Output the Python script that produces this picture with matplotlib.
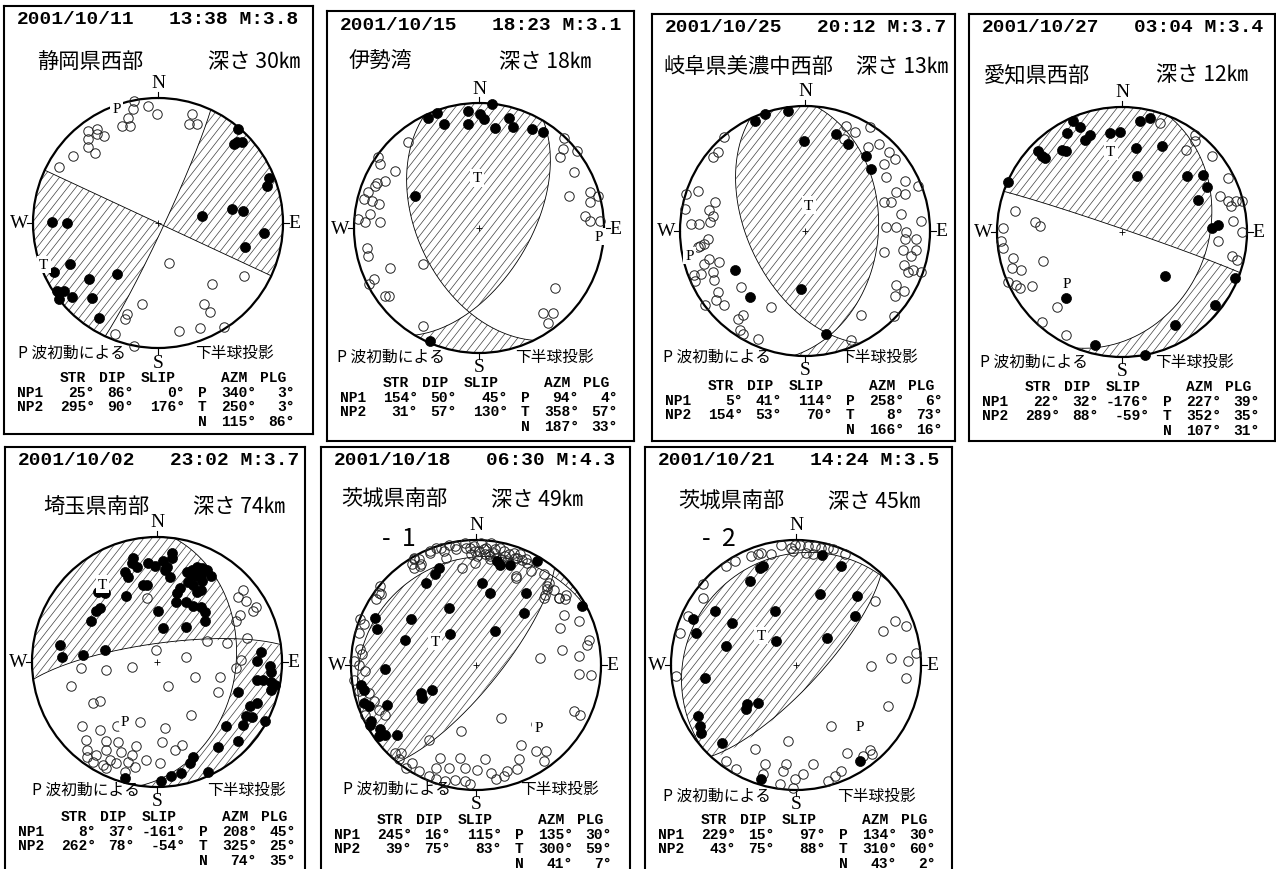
import numpy as np
import matplotlib.pyplot as plt
from matplotlib.patches import Circle, PathPatch
from matplotlib.collections import LineCollection

plt.rcParams['font.family'] = ['Noto Sans CJK JP', 'DejaVu Sans']

# ---------------- data ----------------
dates = ['2001/10/11', '2001/10/15', '2001/10/25', '2001/10/27', '2001/10/02', '2001/10/18', '2001/10/21']
times = ['13:38', '18:23', '20:12', '03:04', '23:02', '06:30', '14:24']
mags = ['3.8', '3.1', '3.7', '3.4', '3.7', '4.3', '3.5']
regions = ['静岡県西部', '伊勢湾', '岐阜県美濃中西部', '愛知県西部', '埼玉県南部', '茨城県南部', '茨城県南部']
depths = [30, 18, 13, 12, 74, 49, 45]
sub_labels = ['', '', '', '', '', '-  1', '-  2']

np1_str = [25, 154, 5, 22, 8, 245, 229]
np1_dip = [86, 50, 41, 32, 37, 16, 15]
np1_slip = [0, 45, 114, -176, -161, 115, 97]
np2_str = [295, 31, 154, 289, 262, 39, 43]
np2_dip = [90, 57, 53, 88, 78, 75, 75]
np2_slip = [176, 130, 70, -59, -54, 83, 88]
p_azm = [340, 94, 258, 227, 208, 135, 134]
p_plg = [3, 4, 6, 39, 45, 30, 30]
t_azm = [250, 358, 8, 352, 325, 300, 310]
t_plg = [3, 57, 73, 35, 25, 59, 60]
n_azm = [115, 187, 166, 107, 74, 41, 43]
n_plg = [86, 33, 16, 31, 35, 7, 2]

# first-motion observations on the projection (x east, y north, unit circle)
up1 = [(0.64, 0.75), (0.63, 0.65), (0.67, 0.65), (0.61, 0.63), (0.89, 0.36), (0.87, 0.30), (0.59, 0.11),
       (0.68, 0.10), (0.35, 0.06), (0.85, -0.08), (0.70, -0.19), (-0.85, 0.01), (-0.73, 0.00), (-0.70, -0.33),
       (-0.83, -0.39), (-0.55, -0.45), (-0.33, -0.41), (-0.81, -0.54), (-0.75, -0.54), (-0.69, -0.59),
       (-0.79, -0.61), (-0.53, -0.60), (-0.47, -0.76)]
down1 = [(-0.19, 0.98), (-0.08, 0.94), (-0.20, 0.91), (-0.01, 0.87), (-0.24, 0.84), (0.27, 0.87), (0.25, 0.79),
         (0.31, 0.79), (-0.29, 0.78), (-0.22, 0.78), (-0.49, 0.75), (-0.56, 0.74), (-0.49, 0.71), (-0.43, 0.70),
         (-0.56, 0.67), (-0.56, 0.61), (-0.50, 0.56), (-0.68, 0.54), (-0.79, 0.45), (0.09, -0.32), (0.69, -0.42),
         (0.43, -0.49), (0.37, -0.65), (0.42, -0.71), (-0.13, -0.65), (-0.25, -0.73), (-0.26, -0.77),
         (0.53, -0.83), (0.34, -0.84), (0.17, -0.86), (-0.34, -0.89), (-0.19, -0.98)]

up2 = [(0.10, 0.99), (-0.09, 0.94), (0.01, 0.91), (0.04, 0.87), (-0.34, 0.92), (-0.41, 0.88), (-0.28, 0.83),
       (-0.09, 0.83), (0.24, 0.88), (0.27, 0.81), (0.13, 0.80), (0.42, 0.79), (0.51, 0.77), (-0.51, 0.26),
       (-0.39, -0.90)]
down2 = [(-0.57, 0.69), (-0.81, 0.57), (-0.79, 0.51), (-0.67, 0.46), (-0.75, 0.38), (-0.82, 0.36), (-0.83, 0.34),
         (-0.89, 0.29), (-0.92, 0.23), (-0.86, 0.22), (-0.80, 0.19), (-0.87, 0.11), (-0.91, 0.05), (-0.79, 0.05),
         (-0.97, 0.07), (-0.90, -0.16), (-0.89, -0.22), (-0.71, -0.32), (-0.84, -0.41), (-0.88, -0.45),
         (-0.75, -0.54), (-0.72, -0.54), (-0.45, -0.29), (-0.45, -0.78), (0.68, 0.72), (0.67, 0.63), (0.65, 0.57),
         (0.78, 0.62), (0.76, 0.45), (0.72, 0.26), (0.89, 0.29), (0.95, 0.26), (0.89, 0.21), (0.85, 0.10),
         (0.89, 0.06), (0.97, 0.06), (0.61, -0.48), (0.51, -0.68), (0.59, -0.68), (0.55, -0.76)]

up3 = [(-0.32, 0.94), (-0.14, 0.96), (-0.40, 0.88), (-0.01, 0.72), (0.25, 0.78), (0.34, 0.70), (0.49, 0.60),
       (0.53, 0.50), (-0.56, -0.31), (-0.44, -0.53), (-0.03, -0.46), (0.17, -0.82)]
down3 = [(-0.65, 0.75), (-0.70, 0.63), (-0.74, 0.59), (-0.95, 0.30), (-0.86, 0.32), (-0.72, 0.23), (-0.96, 0.18),
         (-0.77, 0.17), (-0.74, 0.12), (-0.91, 0.06), (-0.85, 0.06), (-0.76, 0.07), (-0.78, -0.06), (-0.84, -0.12),
         (-0.86, -0.13), (-0.81, -0.10), (-0.92, -0.19), (-0.77, -0.22), (-0.81, -0.26), (-0.69, -0.25),
         (-0.89, -0.35), (-0.83, -0.34), (-0.74, -0.33), (-0.73, -0.39), (-0.88, -0.40), (-0.51, -0.45),
         (-0.70, -0.49), (-0.71, -0.55), (-0.80, -0.59), (-0.65, -0.59), (-0.50, -0.67), (-0.54, -0.70),
         (-0.27, -0.61), (-0.52, -0.79), (-0.50, -0.82), (-0.38, -0.86), (0.33, 0.84), (0.40, 0.79), (0.31, 0.74),
         (0.52, 0.83), (0.59, 0.70), (0.50, 0.67), (0.67, 0.63), (0.72, 0.58), (0.63, 0.54), (0.65, 0.43),
         (0.80, 0.40), (0.90, 0.36), (0.73, 0.31), (0.80, 0.30), (0.63, 0.23), (0.69, 0.23), (0.77, 0.14),
         (0.93, 0.08), (0.65, 0.03), (0.73, 0.03), (0.81, -0.01), (0.89, -0.06), (0.80, -0.06), (0.89, -0.15),
         (0.78, -0.15), (0.63, -0.17), (0.85, -0.20), (0.79, -0.27), (0.93, -0.33), (0.86, -0.31), (0.82, -0.33),
         (0.73, -0.43), (0.79, -0.48), (0.72, -0.52), (0.71, -0.68), (0.45, -0.67), (0.37, -0.87)]

up4 = [(-0.39, 0.89), (-0.34, 0.84), (-0.44, 0.79), (-0.26, 0.78), (-0.30, 0.74), (-0.10, 0.79), (-0.02, 0.80),
       (0.14, 0.89), (0.22, 0.91), (0.32, 0.69), (0.11, 0.67), (-0.67, 0.65), (-0.64, 0.61), (-0.62, 0.59),
       (-0.48, 0.66), (-0.45, 0.65), (-0.91, 0.40), (0.12, 0.45), (0.52, 0.45), (0.65, 0.46), (0.68, 0.36),
       (0.61, 0.26), (0.77, 0.06), (0.72, 0.03), (0.34, -0.35), (-0.45, -0.53), (0.90, -0.37), (0.74, -0.58),
       (0.42, -0.74), (-0.22, -0.90), (0.18, -0.98)]
down4 = [(0.30, 0.87), (0.58, 0.78), (0.58, 0.73), (0.51, 0.66), (0.72, 0.61), (0.85, 0.43), (0.78, 0.29),
         (0.85, 0.25), (0.91, 0.25), (0.96, 0.25), (0.87, 0.21), (0.89, 0.09), (0.96, 0.00), (0.77, -0.07),
         (0.88, -0.19), (0.92, -0.22), (-0.86, 0.17), (-0.70, 0.08), (-0.66, 0.05), (-0.95, 0.03), (-0.97, -0.07),
         (-0.95, -0.13), (-0.87, -0.21), (-0.63, -0.23), (-0.88, -0.29), (-0.81, -0.30), (-0.91, -0.40),
         (-0.85, -0.42), (-0.82, -0.45), (-0.72, -0.43), (-0.52, -0.60), (-0.64, -0.72), (-0.45, -0.82)]

up5 = [(-0.19, 0.83), (-0.20, 0.79), (-0.16, 0.76), (-0.26, 0.72), (-0.23, 0.68), (-0.07, 0.79), (-0.02, 0.77),
       (0.05, 0.81), (0.08, 0.76), (0.12, 0.87), (0.12, 0.83), (0.06, 0.74), (0.10, 0.68), (-0.11, 0.62),
       (-0.08, 0.62), (-0.25, 0.53), (-0.45, 0.60), (-0.47, 0.56), (-0.42, 0.55), (-0.46, 0.43), (-0.49, 0.41),
       (-0.53, 0.33), (-0.78, 0.14), (-0.76, 0.04), (-0.59, 0.06), (-0.42, 0.10), (0.16, 0.55), (0.18, 0.59),
       (0.01, 0.41), (0.15, 0.48), (0.23, 0.48), (0.05, 0.27), (0.23, 0.28), (0.24, 0.72), (0.28, 0.74),
       (0.32, 0.76), (0.36, 0.75), (0.40, 0.74), (0.27, 0.70), (0.31, 0.69), (0.35, 0.70), (0.43, 0.69),
       (0.25, 0.64), (0.29, 0.62), (0.36, 0.65), (0.35, 0.58), (0.29, 0.45), (0.35, 0.44), (0.38, 0.40),
       (0.32, 0.56), (0.38, 0.33), (0.83, 0.08), (0.80, 0.01), (0.90, -0.03), (0.91, -0.08), (0.80, -0.14),
       (0.85, -0.14), (0.91, -0.16), (0.94, -0.18), (0.91, -0.22), (0.65, -0.24), (0.74, -0.35), (0.80, -0.33),
       (0.71, -0.43), (0.76, -0.44), (0.86, -0.47), (0.69, -0.50), (0.55, -0.51), (0.65, -0.63), (0.49, -0.68),
       (0.29, -0.76), (0.26, -0.81), (0.19, -0.89), (0.11, -0.91), (0.03, -0.95), (0.41, -0.88), (-0.26, -0.93)]
down5 = [(-0.08, 0.51), (0.69, 0.58), (0.65, 0.52), (0.71, 0.49), (0.79, 0.44), (0.77, 0.41), (0.66, 0.38),
         (0.63, 0.33), (0.72, 0.19), (0.40, 0.17), (0.56, 0.15), (-0.01, 0.10), (0.23, 0.04), (0.67, 0.02),
         (0.63, -0.05), (-0.61, -0.05), (-0.41, -0.06), (-0.20, -0.04), (0.30, -0.12), (0.50, -0.12), (0.09, -0.19),
         (-0.69, -0.19), (0.49, -0.24), (-0.51, -0.33), (-0.46, -0.31), (0.27, -0.42), (-0.60, -0.51),
         (-0.46, -0.54), (-0.32, -0.51), (-0.14, -0.48), (0.06, -0.53), (-0.57, -0.62), (-0.41, -0.63),
         (-0.31, -0.64), (-0.17, -0.67), (0.04, -0.64), (0.20, -0.66), (-0.56, -0.70), (-0.41, -0.70),
         (-0.29, -0.72), (-0.20, -0.74), (-0.56, -0.76), (-0.49, -0.74), (-0.38, -0.78), (-0.51, -0.80),
         (-0.43, -0.82), (-0.33, -0.81), (-0.23, -0.80), (-0.18, -0.84), (-0.09, -0.78), (0.02, -0.81),
         (-0.26, -0.88), (-0.41, -0.85), (0.14, -0.70)]

up6 = [(-0.30, 0.78), (-0.33, 0.73), (-0.40, 0.66), (0.19, 0.80), (0.27, 0.80), (0.49, 0.83), (0.05, 0.66),
       (0.11, 0.58), (0.40, 0.58), (0.38, 0.42), (0.85, 0.47), (-0.22, 0.46), (0.15, 0.27), (-0.21, 0.25),
       (-0.52, 0.37), (-0.57, 0.20), (-0.81, 0.38), (-0.79, 0.29), (-0.73, -0.03), (-0.92, -0.16), (-0.90, -0.20),
       (-0.44, -0.22), (-0.43, -0.26), (-0.35, -0.20), (-0.90, -0.30), (-0.86, -0.33), (-0.71, -0.32),
       (-0.84, -0.45), (-0.85, -0.48), (-0.77, -0.51), (-0.78, -0.57), (-0.73, -0.56), (-0.63, -0.56), (0.17, 0.83)]
down6 = [(-0.50, 0.86), (-0.46, 0.85), (-0.44, 0.81), (-0.50, 0.78), (-0.37, 0.91), (-0.32, 0.94), (-0.26, 0.91),
         (-0.22, 0.96), (-0.17, 0.95), (-0.09, 0.98), (-0.05, 0.94), (-0.01, 0.91), (0.04, 0.98), (0.08, 0.94),
         (0.12, 0.98), (0.15, 0.93), (0.19, 0.94), (0.22, 0.91), (0.26, 0.89), (0.30, 0.90), (0.33, 0.86),
         (0.37, 0.84), (0.41, 0.82), (0.07, 0.89), (0.11, 0.87), (0.01, 0.87), (-0.04, 0.89), (-0.01, 0.82),
         (-0.11, 0.78), (0.32, 0.71), (0.44, 0.75), (0.54, 0.73), (0.58, 0.66), (0.57, 0.61), (0.62, 0.60),
         (0.66, 0.54), (0.71, 0.53), (0.54, 0.54), (0.70, 0.40), (0.82, 0.35), (0.67, 0.30), (0.90, 0.20),
         (0.89, 0.16), (0.69, 0.12), (0.82, 0.07), (0.51, 0.06), (0.82, -0.07), (0.92, -0.08), (0.78, -0.37),
         (0.83, -0.40), (0.20, -0.42), (0.48, -0.47), (-0.12, -0.53), (-0.38, -0.60), (0.36, -0.64), (0.48, -0.69),
         (0.56, -0.69), (0.54, -0.77), (-0.29, -0.74), (-0.13, -0.74), (0.07, -0.75), (0.34, -0.75), (-0.32, -0.82),
         (-0.22, -0.82), (-0.09, -0.82), (0.01, -0.84), (0.12, -0.86), (0.25, -0.85), (0.33, -0.83), (-0.09, -0.93),
         (-0.17, -0.92), (-0.05, -0.95), (0.22, -0.89), (0.16, -0.91), (-0.60, -0.70), (-0.62, -0.75),
         (-0.51, -0.78), (-0.56, -0.82), (-0.46, -0.85), (-0.38, -0.89), (-0.32, -0.91), (-0.25, -0.93),
         (-0.77, 0.63), (-0.78, 0.58), (-0.80, 0.53), (-0.93, 0.37), (-0.90, 0.33), (-0.94, 0.26), (-0.93, 0.13),
         (-0.91, 0.09), (-0.98, 0.03), (-0.94, 0.00), (-0.89, -0.05), (-0.98, -0.12), (-0.94, -0.21),
         (-0.86, -0.22), (-0.82, -0.29), (-0.78, -0.36), (-0.73, -0.40), (-0.89, -0.40), (-0.65, -0.70),
         (-0.08, 0.94), (-0.02, 0.95), (0.02, 0.91), (0.06, 0.93), (0.10, 0.89), (0.14, 0.90), (0.16, 0.86),
         (0.20, 0.85), (0.23, 0.87), (0.11, 0.85), (0.25, 0.83), (0.31, 0.86), (0.35, 0.89), (0.40, 0.85),
         (-0.16, 0.93), (-0.28, 0.94), (-0.37, 0.90), (-0.50, 0.85), (-0.45, 0.79), (-0.51, 0.81), (-0.24, 0.86),
         (0.57, 0.63), (0.66, 0.54), (0.72, 0.56), (0.55, 0.56), (0.32, 0.70), (-0.76, 0.57)]

up7 = [(0.21, 0.88), (0.36, 0.79), (-0.29, 0.78), (-0.26, 0.79), (-0.37, 0.67), (0.19, 0.57), (0.49, 0.55),
       (0.47, 0.39), (-0.65, 0.43), (-0.51, 0.34), (-0.17, 0.43), (-0.82, 0.37), (-0.80, 0.26), (-0.56, 0.15),
       (-0.16, 0.19), (0.25, 0.22), (-0.73, -0.10), (-0.39, -0.31), (-0.40, -0.35), (-0.30, -0.30), (-0.78, -0.41),
       (-0.77, -0.49), (-0.76, -0.54), (-0.59, -0.62), (0.51, -0.77), (-0.28, -0.91)]
down7 = [(-0.36, 0.87), (-0.30, 0.89), (-0.28, 0.90), (-0.20, 0.89), (-0.12, 0.96), (-0.04, 0.94), (-0.01, 0.96),
         (-0.02, 0.91), (0.03, 0.96), (0.10, 0.95), (0.15, 0.95), (0.20, 0.94), (0.26, 0.94), (0.30, 0.93),
         (0.08, 0.90), (0.14, 0.89), (0.39, 0.89), (-0.56, 0.79), (-0.49, 0.83), (-0.74, 0.65), (-0.74, 0.54),
         (-0.86, 0.39), (-0.93, 0.26), (-0.96, -0.09), (0.63, 0.51), (0.79, 0.35), (0.88, 0.31), (0.70, 0.27),
         (0.96, 0.10), (0.76, 0.06), (0.90, 0.03), (0.60, -0.01), (0.88, -0.10), (0.74, -0.33), (0.28, -0.49),
         (-0.06, -0.61), (-0.33, -0.67), (0.41, -0.70), (0.59, -0.68), (0.61, -0.71), (0.54, -0.73), (-0.56, -0.77),
         (-0.48, -0.83), (-0.25, -0.79), (-0.26, -0.87), (-0.08, -0.79), (-0.10, -0.85), (-0.01, -0.91),
         (0.06, -0.87), (0.14, -0.79), (0.36, -0.85), (0.31, -0.89), (0.26, -0.93), (-0.13, -0.95), (-0.02, -0.98)]

ups = [up1, up2, up3, up4, up5, up6, up7]
downs = [down1, down2, down3, down4, down5, down6, down7]

# ---------------- layout (pixels) ----------------
R = 125.0
boxes = [(4, 7, 309, 428), (327, 12, 307, 430), (652, 15, 303, 427), (969, 15, 306, 427),
         (5, 448, 300, 424), (321, 448, 309, 424), (645, 448, 307, 424)]
centers = [(154, 217), (152, 217), (153, 217), (153, 218), (152, 215), (155, 218), (151, 218)]
name_pos = [(33, 55), (22, 50), (11, 52), (15, 60), (38, 59), (20, 52), (33, 54)]
depth_x = [204, 172, 204, 187, 188, 170, 183]
foot_pos = [(14, 191, 346), (10, 188, 345), (11, 187, 342), (11, 186, 347), (27, 202, 342), (22, 199, 341),
            (18, 192, 348)]

mono = 'Liberation Mono'
serif = 'Liberation Serif'


def moment(strike, dip, rake):
    f, d, l = np.radians([strike, dip, rake])
    mxx = -(np.sin(d) * np.cos(l) * np.sin(2 * f) + np.sin(2 * d) * np.sin(l) * np.sin(f) ** 2)
    mxy = np.sin(d) * np.cos(l) * np.cos(2 * f) + 0.5 * np.sin(2 * d) * np.sin(l) * np.sin(2 * f)
    mxz = -(np.cos(d) * np.cos(l) * np.cos(f) + np.cos(2 * d) * np.sin(l) * np.sin(f))
    myy = np.sin(d) * np.cos(l) * np.sin(2 * f) - np.sin(2 * d) * np.sin(l) * np.cos(f) ** 2
    myz = -(np.cos(d) * np.cos(l) * np.sin(f) - np.cos(2 * d) * np.sin(l) * np.cos(f))
    mzz = np.sin(2 * d) * np.sin(l)
    return np.array([[mxx, mxy, mxz], [mxy, myy, myz], [mxz, myz, mzz]])


def nodal_line(strike, dip):
    # great circle of the plane, lower hemisphere, equal-area
    f, d = np.radians([strike, dip])
    t = np.linspace(0, np.pi, 361)
    s = np.array([np.cos(f), np.sin(f), 0.0])
    dv = np.array([-np.cos(d) * np.sin(f), np.cos(d) * np.cos(f), np.sin(d)])
    v = np.outer(np.cos(t), s) + np.outer(np.sin(t), dv)
    inc = np.arccos(np.clip(v[:, 2], -1, 1))
    az = np.arctan2(v[:, 1], v[:, 0])
    r = np.sqrt(2) * np.sin(inc / 2)
    return r * np.sin(az), r * np.cos(az)


def axis_xy(azm, plg):
    r = np.sqrt(2) * np.sin(np.radians(90 - plg) / 2)
    return r * np.sin(np.radians(azm)), r * np.cos(np.radians(azm))


# polar grid on the focal sphere
rr, th = np.meshgrid(np.linspace(0, 1, 160), np.linspace(0, 2 * np.pi, 721))
inc = 2 * np.arcsin(rr / np.sqrt(2))
ray = np.stack([np.sin(inc) * np.cos(th), np.sin(inc) * np.sin(th), np.cos(inc)])
GX, GY = rr * np.sin(th), rr * np.cos(th)

ang = np.radians(52)
dvec = np.array([np.cos(ang), np.sin(ang)])
nvec = np.array([-np.sin(ang), np.cos(ang)])
hatch_segs = [[tuple(c * nvec - 1.6 * dvec), tuple(c * nvec + 1.6 * dvec)] for c in np.arange(-1.5, 1.5, 0.051)]

fig = plt.figure(figsize=(12.76, 8.70), dpi=100)

for k in range(7):
    bx, by, bw, bh = boxes[k]
    cx, cy = centers[k]
    ax = fig.add_axes([bx / 1276, 1 - (by + bh) / 870, bw / 1276, bh / 870])
    ax.set_xlim(-cx / R, (bw - cx) / R)
    ax.set_ylim((cy - bh) / R, cy / R)
    ax.set_xticks([])
    ax.set_yticks([])
    for sp in ax.spines.values():
        sp.set_linewidth(1.5)

    def P(u, v):
        return (u - cx) / R, (cy - v) / R

    # compressional quadrants, hatched
    M = moment(np1_str[k], np1_dip[k], np1_slip[k])
    Z = np.einsum('iab,ij,jab->ab', ray, M, ray)
    cs = ax.contourf(GX, GY, Z, levels=[0, 10], colors='none')
    region = cs.get_paths()[0]
    cs.remove()
    clip = PathPatch(region, transform=ax.transData, fc='none', ec='none')
    lc = LineCollection(hatch_segs, colors='#404040', linewidths=0.5, zorder=1)
    ax.add_collection(lc)
    lc.set_clip_path(clip)

    for s_, d_ in [(np1_str[k], np1_dip[k]), (np2_str[k], np2_dip[k])]:
        x, y = nodal_line(s_, d_)
        ax.plot(x, y, color='black', lw=0.6, zorder=2)

    ax.add_patch(Circle((0, 0), 1, fill=False, ec='black', lw=1.6, zorder=3))
    tk = 6 / R
    ax.plot([0, 0], [1, 1 + tk], color='black', lw=0.8)
    ax.plot([0, 0], [-1, -1 - tk], color='black', lw=0.8)
    ax.plot([-1, -1 - tk], [0, 0], color='black', lw=0.8)
    ax.plot([1, 1 + tk], [0, 0], color='black', lw=0.8)
    ax.text(0, 1 + 15 / R, 'N', family=serif, fontsize=14, ha='center', va='center')
    ax.text(0, -1 - 14 / R, 'S', family=serif, fontsize=14, ha='center', va='center')
    ax.text(-1 - 5 / R, 0, 'W', family=serif, fontsize=14, ha='right', va='center')
    ax.text(1 + 5 / R, 0, 'E', family=serif, fontsize=14, ha='left', va='center')
    ax.plot([0], [0], marker='+', ms=5, mew=0.6, color='black', zorder=3)

    dx, dy = zip(*downs[k])
    ax.plot(dx, dy, 'o', ms=6.8, mfc='none', mec='#222222', mew=0.7, zorder=4)
    ux, uy = zip(*ups[k])
    ax.plot(ux, uy, 'o', ms=7.2, mfc='black', mec='black', mew=0.5, zorder=4)

    for lab, az_, pl_ in [('P', p_azm[k], p_plg[k]), ('T', t_azm[k], t_plg[k])]:
        ax.text(*axis_xy(az_, pl_), lab, family=serif, fontsize=11, ha='center', va='center', zorder=6,
                bbox=dict(boxstyle='square,pad=0.15', fc='white', ec='none'))

    # texts
    ax.text(*P(12.7, 13), dates[k], family=mono, weight='bold', fontsize=14, ha='left', va='center')
    ax.text(*P(294, 13), f'{times[k]} M:{mags[k]}', family=mono, weight='bold', fontsize=14,
            ha='right', va='center')
    nx, ny = name_pos[k]
    ax.text(*P(nx, ny), regions[k], fontsize=15.3, ha='left', va='center')
    ax.text(*P(depth_x[k], ny), f'深さ {depths[k]}㎞', fontsize=15.3, ha='left', va='center')
    if sub_labels[k]:
        ax.text(*P(cx - 77, cy - 127), sub_labels[k], fontsize=18, ha='center', va='center')
    fx1, fx2, fy = foot_pos[k]
    ax.text(*P(fx1, fy), 'P 波初動による', fontsize=11.3, ha='left', va='center', zorder=7)
    ax.text(*P(fx2, fy), '下半球投影', fontsize=11.3, ha='left', va='center', zorder=7)

    ty = cy + 154
    cols = [82, 121, 172, 243, 282]
    for c, h in zip(cols, ['STR', 'DIP', 'SLIP', 'AZM', 'PLG']):
        ax.text(*P(c, ty), h, family=mono, weight='bold', fontsize=10.5, ha='right', va='center')
    rows = [('NP1', (np1_str[k], np1_dip[k], np1_slip[k]), 'P', (p_azm[k], p_plg[k])),
            ('NP2', (np2_str[k], np2_dip[k], np2_slip[k]), 'T', (t_azm[k], t_plg[k])),
            ('', None, 'N', (n_azm[k], n_plg[k]))]
    for j, (lab, vals, axl, axv) in enumerate(rows):
        yy = ty + 14.7 * (j + 1)
        if vals is not None:
            ax.text(*P(12.7, yy), lab, family=mono, weight='bold', fontsize=10.5, ha='left', va='center')
            for c, v in zip(cols[:3], vals):
                ax.text(*P(c + 8.8, yy), f'{v}°', family=mono, weight='bold', fontsize=10.5,
                        ha='right', va='center')
        ax.text(*P(194, yy), axl, family=mono, weight='bold', fontsize=10.5, ha='left', va='center')
        for c, v in zip(cols[3:], axv):
            ax.text(*P(c + 8.8, yy), f'{v}°', family=mono, weight='bold', fontsize=10.5,
                    ha='right', va='center')

fig.savefig('out.png', dpi=100)
